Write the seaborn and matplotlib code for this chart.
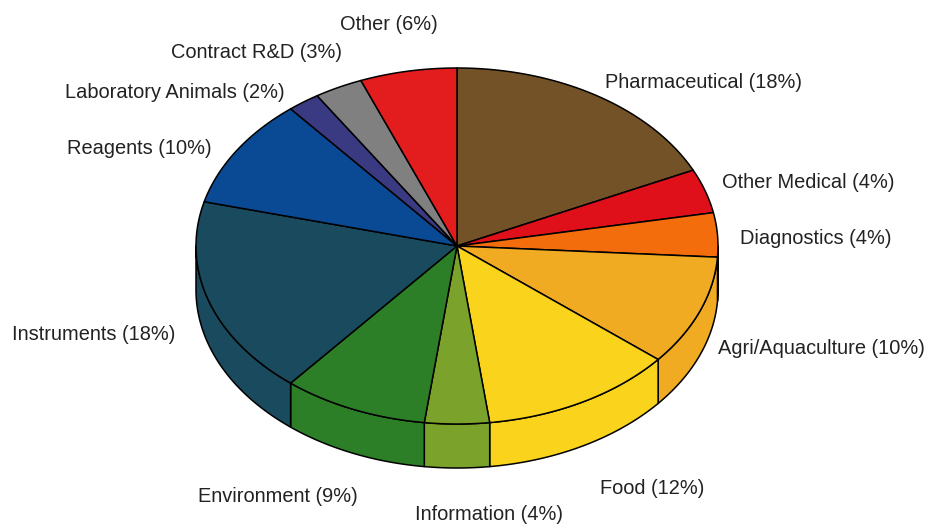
import numpy as np
import matplotlib
matplotlib.use("Agg")
import matplotlib.pyplot as plt
from matplotlib.patches import Polygon
import seaborn as sns

categories = ["Pharmaceutical", "Other Medical", "Diagnostics", "Agri/Aquaculture",
              "Food", "Information", "Environment", "Instruments", "Reagents",
              "Laboratory Animals", "Contract R&D", "Other"]
values = [18, 4, 4, 10, 12, 4, 9, 18, 10, 2, 3, 6]
colors = ["#735227", "#e0101a", "#f46d0c", "#f0ab22", "#f9d31c", "#7ba22a",
          "#2d7f27", "#1a4a5e", "#0a4a94", "#3a3a82", "#808080", "#e31c1e"]

# label anchors (pixel coordinates of the figure) and alignment
label_x = [605, 722, 740, 718, 600, 489, 358, 175, 212, 285, 342, 438]
label_y = [83, 183, 238, 348, 489, 514, 496, 334, 148, 93, 53, 24]
label_ha = ["left", "left", "left", "left", "left", "center", "right", "right",
            "right", "right", "right", "right"]

sns.set_style("white")
plt.rcParams['font.family'] = ['Liberation Sans', 'DejaVu Sans']

W, H = 930, 524
fig = plt.figure(figsize=(W / 100, H / 100), dpi=100)
ax = fig.add_axes([0, 0, 1, 1])
ax.set_xlim(0, W)
ax.set_ylim(H, 0)
ax.axis("off")

cx, cy, rx, ry, depth = 457, 246, 261, 178, 44
palette = sns.color_palette(colors)

vals = np.array(values, dtype=float)
frac = vals / vals.sum()
cum = np.concatenate([[0], np.cumsum(frac)])
t_start = 90 - 360 * cum[:-1]
t_end = 90 - 360 * cum[1:]


def pt(theta, dy=0.0):
    th = np.radians(theta)
    return cx + rx * np.cos(th), cy - ry * np.sin(th) + dy


# side walls (front half: theta in [-180, 0])
for i in range(len(values)):
    a = max(t_end[i], -180)
    b = min(t_start[i], 0)
    if a >= b:
        continue
    ths = np.linspace(b, a, 80)
    xs, ys = pt(ths)
    xb, yb = pt(ths[::-1], depth)
    poly = np.column_stack([np.concatenate([xs, xb]), np.concatenate([ys, yb])])
    ax.add_patch(Polygon(poly, closed=True, facecolor=palette[i],
                         edgecolor="black", lw=1.1, joinstyle="round"))

# top face
for i in range(len(values)):
    ths = np.linspace(t_start[i], t_end[i], 100)
    xs, ys = pt(ths)
    poly = np.column_stack([np.concatenate([[cx], xs]), np.concatenate([[cy], ys])])
    ax.add_patch(Polygon(poly, closed=True, facecolor=palette[i],
                         edgecolor="black", lw=1.1, joinstyle="round"))

# labels
for i, name in enumerate(categories):
    ax.text(label_x[i], label_y[i], f"{name} ({values[i]}%)", ha=label_ha[i],
            va="center", fontsize=14.4, color="#222222")

fig.savefig("out.png", dpi=100)
